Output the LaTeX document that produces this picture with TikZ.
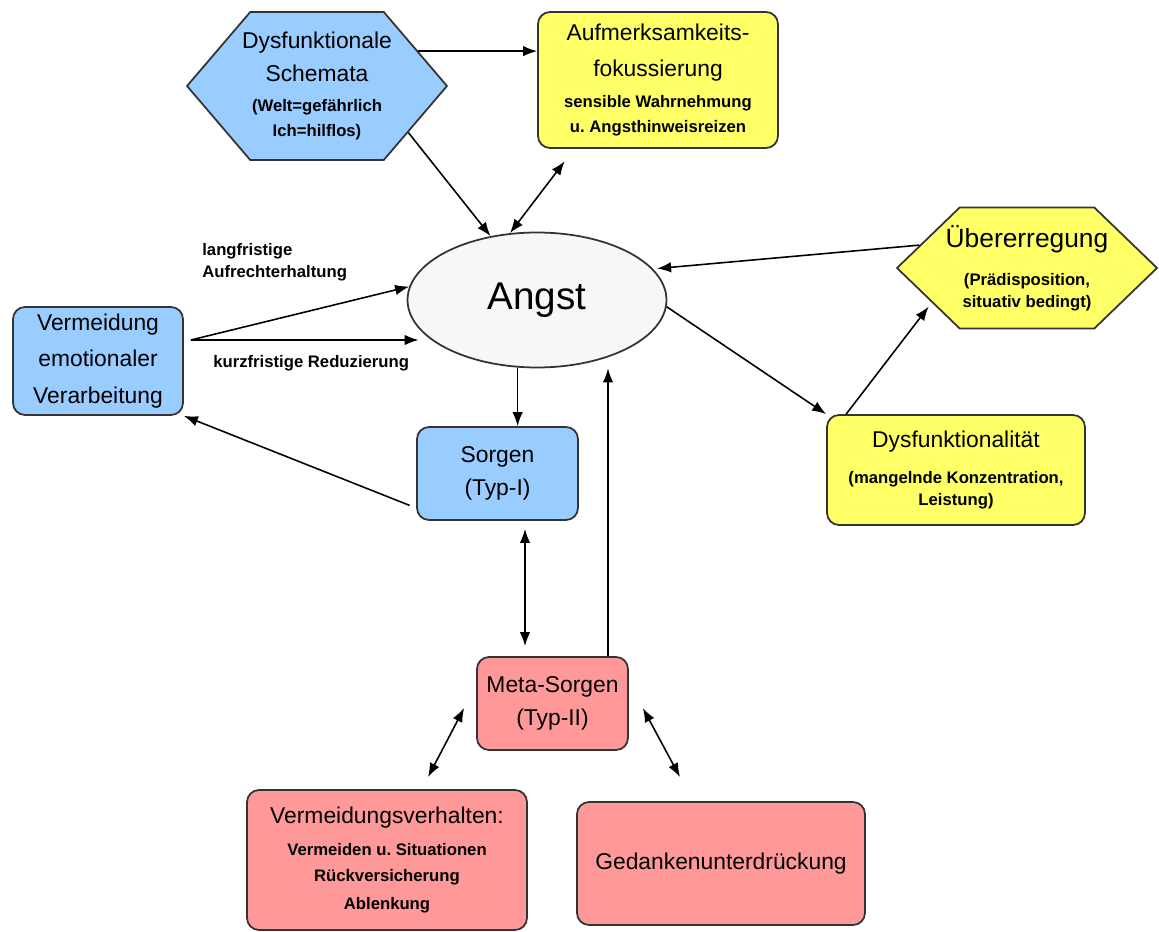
\documentclass[tikz,border=0pt]{standalone}
\usepackage{fontspec}
\setmainfont{Liberation Sans}
\usetikzlibrary{arrows.meta,shapes.symbols,shapes.geometric,calc}
\newcommand{\sm}{\fontsize{9.5}{12.5}\selectfont\bfseries}
\newcommand{\zw}[1]{\makebox[0pt]{#1}}
\definecolor{boxblue}{HTML}{99CCFF}
\definecolor{boxyellow}{HTML}{FFFF66}
\definecolor{boxred}{HTML}{FF9999}
\definecolor{angstgray}{HTML}{F7F7F7}
\definecolor{edge}{HTML}{333333}
\frenchspacing

\begin{document}
\begin{tikzpicture}[x=0.02cm, y=-0.02cm,
  box/.style={draw=edge, line width=1pt, rounded corners=0.24cm, align=center,
              inner sep=0pt, font=\fontsize{13}{19}\selectfont},
  hexa/.style={signal, signal to=west and east, draw=edge, line width=1pt,
               align=center, inner sep=0pt, font=\fontsize{13}{19}\selectfont},
  arr/.style={-{Latex[length=8pt,width=6pt]}, line width=0.9pt},
  dbl/.style={{Latex[length=8pt,width=6pt]}-{Latex[length=8pt,width=6pt]}, line width=0.9pt},
  lbl/.style={font=\sm, align=left, inner sep=0pt},
]
  \useasboundingbox (0,0) rectangle (1159,932);

  %% upper row
  \node[hexa, fill=boxblue, signal pointer angle=99, minimum width=5.2cm, minimum height=2.96cm]
    (schema) at (317,86) {\zw{Dysfunktionale}\\\zw{Schemata}\\[-2pt]
                          \zw{\sm (Welt=gefährlich}\\[-5pt]\zw{\sm Ich=hilflos)}};
  \node[box, fill=boxyellow, minimum width=4.8cm, minimum height=2.72cm]
    (aufm) at (658,80) {Aufmerksamkeits-\\[1.5pt]fokussierung\\[-1.5pt]
                        {\sm sensible Wahrnehmung}\\[-5pt]{\sm u. Angsthinweisreizen}};

  %% centre
  \node[ellipse, draw=edge, line width=1pt, fill=angstgray, minimum width=5.18cm, minimum height=2.7cm,
        font=\fontsize{22}{26}\selectfont] (angst) at (537,300) {Angst};
  \node[hexa, fill=boxyellow, signal pointer angle=88, minimum width=5.2cm, minimum height=2.42cm,
        font=\fontsize{15}{19}\selectfont]
    (ueber) at (1027,268) {\zw{Übererregung}\\[2.5pt]\zw{\sm (Prädisposition,}\\[-6.5pt]
                           \zw{\sm situativ bedingt)}};
  \node[box, fill=boxblue, minimum width=3.4cm, minimum height=2.16cm]
    (verm) at (98,361) {Vermeidung\\[2pt]emotionaler\\[2pt]Verarbeitung};
  \node[box, fill=boxblue, minimum width=3.22cm, minimum height=1.86cm]
    (sorgen) at (497.5,473.5) {Sorgen\\(Typ-I)};
  \node[box, fill=boxyellow, minimum width=5.16cm, minimum height=2.2cm]
    (dysf) at (956,470) {Dysfunktionalität\\[1.5pt]{\sm (mangelnde Konzentration,}\\[-7pt]{\sm Leistung)}};

  %% lower part
  \node[box, fill=boxred, minimum width=3.02cm, minimum height=1.86cm]
    (meta) at (552.5,703.5) {Meta-Sorgen\\(Typ-II)};
  \node[box, fill=boxred, minimum width=5.6cm, minimum height=2.8cm]
    (vermv) at (387,860) {Vermeidungsverhalten:\\[-1pt]{\sm Vermeiden u. Situationen}\\[-4pt]
                          {\sm Rückversicherung}\\[-3pt]{\sm Ablenkung}};
  \node[box, fill=boxred, minimum width=5.76cm, minimum height=2.46cm]
    (ged) at (721,863.5) {Gedankenunterdrückung};

  %% labels
  \node[lbl, anchor=north west] (langlbl) at (202,243) {langfristige\\Aufrechterhaltung};
  \node[lbl, anchor=west] (kurzlbl) at (213,363) {kurzfristige Reduzierung};

  %% connectors
  \draw[arr] (schema.19) -- (aufm.west |- schema.19);
  \draw[arr] (schema.-27) -- (angst.126);
  \draw[dbl, shorten >=0.31cm] (angst.112) -- ([xshift=0.74cm]aufm.south west);
  \draw[arr, shorten >=0.08cm] (ueber.168) -- (angst.15);
  \draw[arr] (angst.-3) -- (dysf.north west);
  \draw[arr, shorten >=0.1cm] ([xshift=0.4cm]dysf.north west) -- (ueber.200);

  \coordinate (vout) at ($(verm.east)+(7,-21)$);
  \draw[arr] (vout) -- (angst.174);
  \draw[arr] (vout) -- ($(angst.west |- vout)+(12,0)$);
  \draw[arr] (angst.254) -- (sorgen.north -| angst.254);
  \draw[arr, shorten <=0.14cm] ($(sorgen.west)+(0,34.5)$) -- (verm.south east);

  \draw[dbl, shorten <=0.16cm, shorten >=0.2cm] ($(sorgen.south)+(27.5,0)$) -- ($(meta.north)+(-27.5,0)$);
  \coordinate (mup) at ($(meta.north)+(55.5,0)$);
  \draw[arr] (mup) -- (mup |- angst.south);
  \draw[dbl] ($(meta.west)+(-12,4.5)$) -- ($(vermv.north)+(41,-12)$);
  \draw[dbl] ($(meta.east)+(14,4.5)$) -- ($(ged.north)+(-41,-24)$);

\end{tikzpicture}
\end{document}
